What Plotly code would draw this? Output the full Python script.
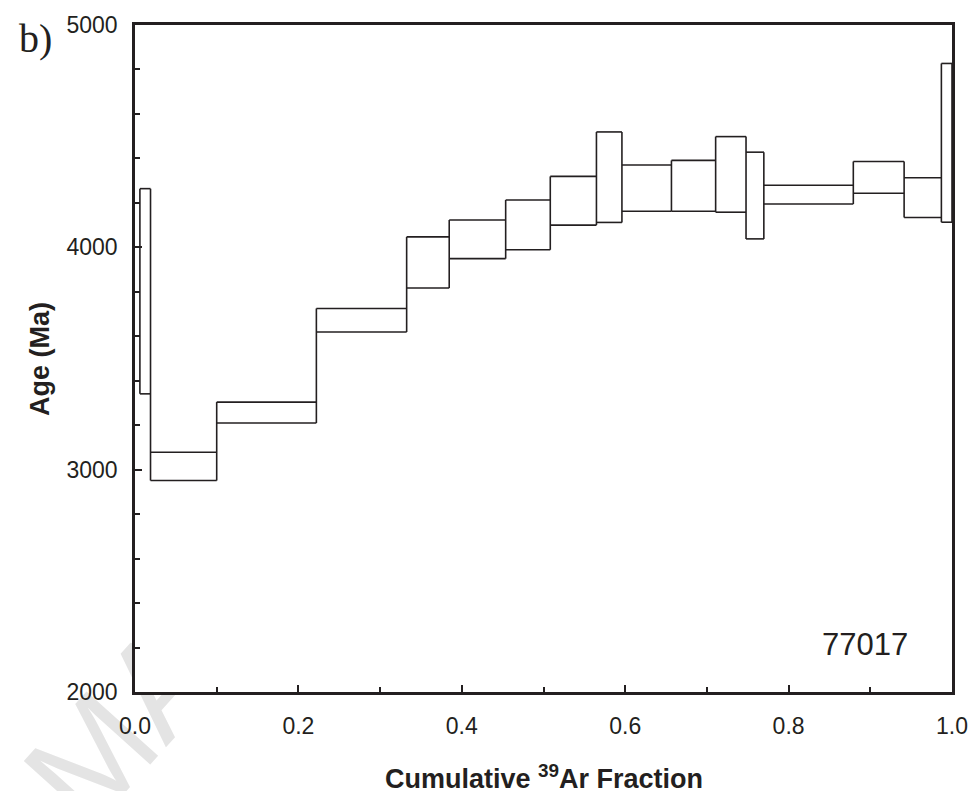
import plotly.graph_objects as go

# Step boundaries (cumulative 39Ar fraction) and age limits (Ma)
frac_bounds = [0.006, 0.019, 0.100, 0.222, 0.3325, 0.3846, 0.4537, 0.5083, 0.5648,
               0.596, 0.6566, 0.7107, 0.7479, 0.7697, 0.8792, 0.9414, 0.987, 1.0]
age_high = [4264, 3078, 3304, 3725, 4047, 4123, 4213, 4319, 4519, 4370, 4391,
            4498, 4428, 4279, 4386, 4313, 4827]
age_low = [3341, 2951, 3210, 3619, 3817, 3949, 3989, 4100, 4112, 4162, 4162,
           4158, 4038, 4195, 4243, 4134, 4113]

x_ticks = [0.0, 0.2, 0.4, 0.6, 0.8, 1.0]
y_ticks = [2000, 3000, 4000, 5000]
sample_label = "77017"
panel_label = "b)"

LINE = "#231f20"

xs, ys = [], []
n = len(age_high)
for i in range(n):
    x0, x1 = frac_bounds[i], frac_bounds[i + 1]
    xs += [x0, x1, None, x0, x1, None]
    ys += [age_high[i], age_high[i], None, age_low[i], age_low[i], None]
xs += [frac_bounds[0], frac_bounds[0], None, frac_bounds[-1], frac_bounds[-1], None]
ys += [age_low[0], age_high[0], None, age_low[-1], age_high[-1], None]
for i in range(n - 1):
    xb = frac_bounds[i + 1]
    lo = min(age_low[i], age_low[i + 1])
    hi = max(age_high[i], age_high[i + 1])
    xs += [xb, xb, None]
    ys += [lo, hi, None]

fig = go.Figure()
fig.add_trace(go.Scatter(x=xs, y=ys, mode="lines",
                         line=dict(color=LINE, width=1.6),
                         hoverinfo="skip", showlegend=False, cliponaxis=False))

W, H = 980, 791
L, T = 135, 22
pw, ph = 825, 670
R = W - L - pw
B = H - T - ph

def px_x(px):
    return (px - L) / pw

def px_y(py):
    return (T + ph - py) / ph

FONT = "Arial, Liberation Sans, sans-serif"

fig.update_layout(
    width=W, height=H,
    margin=dict(l=L, r=R, t=T, b=B),
    paper_bgcolor="white", plot_bgcolor="rgba(0,0,0,0)",
    font=dict(family=FONT, color=LINE),
    xaxis=dict(range=[0, 1], tickvals=x_ticks, tickformat=".1f",
               ticks="inside", ticklen=7, tickwidth=1.5, tickcolor=LINE,
               minor=dict(dtick=0.1, ticks="inside", ticklen=5, tickwidth=1.5, tickcolor=LINE),
               showline=True, linecolor=LINE, linewidth=2.5, mirror=True,
               showgrid=False, zeroline=False, ticklabeloverflow="allow",
               tickfont=dict(size=23, family=FONT, color=LINE), ticklabelstandoff=12),
    yaxis=dict(range=[2000, 5000], tickvals=y_ticks,
               ticks="inside", ticklen=7, tickwidth=1.5, tickcolor=LINE,
               minor=dict(dtick=200, ticks="inside", ticklen=5, tickwidth=1.5, tickcolor=LINE),
               showline=True, linecolor=LINE, linewidth=2.5, mirror=True,
               showgrid=False, zeroline=False, ticklabeloverflow="allow",
               tickfont=dict(size=23, family=FONT, color=LINE), ticklabelstandoff=10),
)

# faint watermark, beneath a white plot-area cover
cx, cy = px_x(112), px_y(715)
fig.add_shape(type="rect", xref="paper", yref="paper", layer="below",
              x0=cx - 0.01, x1=cx + 0.01, y0=cy - 0.01, y1=cy + 0.01,
              line=dict(width=0), fillcolor="rgba(0,0,0,0)",
              label=dict(text="MA", textangle=-48, textposition="middle center",
                         font=dict(size=140, family=FONT, color="#e4e4e4")))
fig.add_shape(type="rect", xref="paper", yref="paper", layer="below",
              x0=0, x1=1, y0=0, y1=1, line=dict(width=0), fillcolor="white")

fig.add_annotation(text="Cumulative <sup>39</sup>Ar Fraction", xref="paper", yref="paper",
                   x=0.5, y=px_y(777), showarrow=False, xanchor="center", yanchor="middle",
                   font=dict(size=27, family=FONT, color=LINE, weight="bold"))
fig.add_annotation(text="Age (Ma)", xref="paper", yref="paper",
                   x=px_x(38.5), y=0.5, showarrow=False, textangle=-90,
                   xanchor="center", yanchor="middle",
                   font=dict(size=27, family=FONT, color=LINE, weight="bold"))
fig.add_annotation(text=sample_label, xref="paper", yref="paper",
                   x=px_x(872), y=px_y(644), showarrow=False,
                   xanchor="center", yanchor="middle",
                   font=dict(size=31, family=FONT, color=LINE))
fig.add_annotation(text=panel_label, xref="paper", yref="paper",
                   x=px_x(35), y=px_y(36), showarrow=False,
                   xanchor="center", yanchor="middle",
                   font=dict(size=40, family="Liberation Serif, Times New Roman, serif", color=LINE))

fig.write_html("out.html",
               config={"displayModeBar": False},
               post_script="document.body.style.margin='0px';"
                           "document.body.style.overflow='hidden';")
